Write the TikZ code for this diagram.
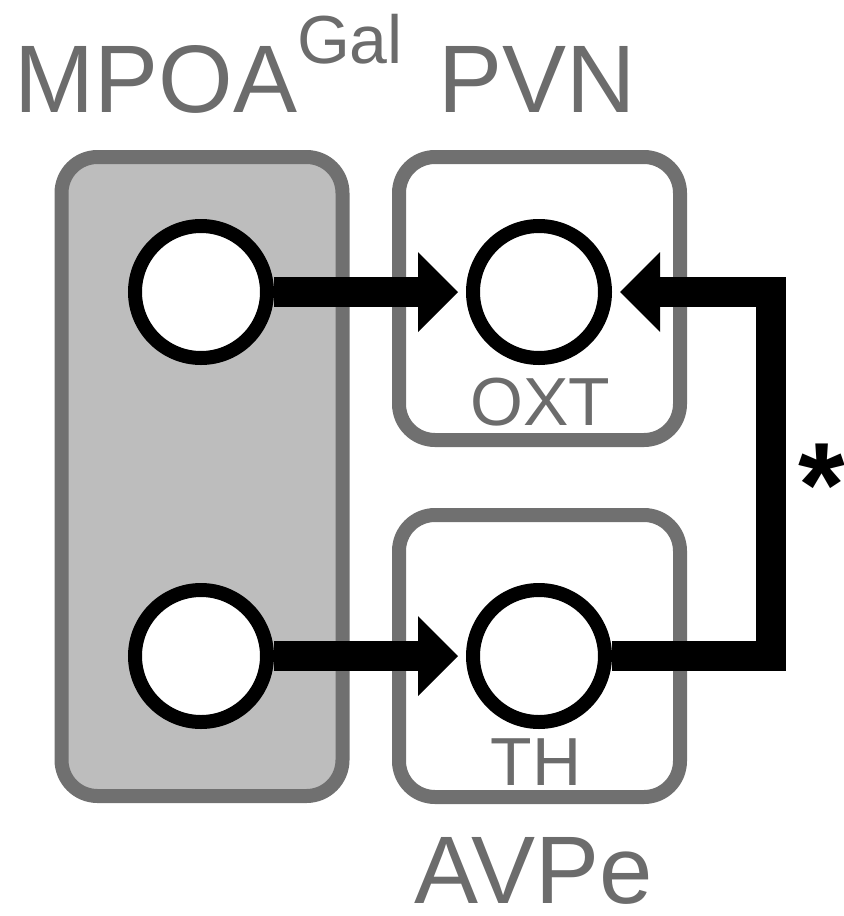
\documentclass[tikz,border=0pt]{standalone}
\usepackage{fontspec}
\setmainfont{Liberation Sans}
\usetikzlibrary{arrows.meta,positioning}
\definecolor{framegray}{RGB}{112,112,112}
\definecolor{areagray}{RGB}{189,189,189}
\definecolor{labelgray}{RGB}{108,108,108}

\begin{document}
\begin{tikzpicture}[
  x=0.5pt, y=-0.5pt,
  region/.style={draw=framegray, line width=7pt, rounded corners=18pt,
                 minimum width=140.5pt, inner sep=0pt},
  cell/.style={circle, draw=black, fill=white, line width=7pt,
               minimum size=66pt, inner sep=0pt},
  bigname/.style={font=\fontsize{48}{50}\selectfont, text=labelgray,
                  inner sep=0pt, text depth=0pt, anchor=base},
  smallname/.style={font=\fontsize{34}{36}\selectfont, text=labelgray,
                    inner sep=0pt, anchor=base},
  link/.style={line width=15pt, line join=miter, shorten >=4pt,
               -{Triangle[length=20pt,width=40pt,line width=0pt]}},
]
\useasboundingbox (0,0) rectangle (844,916);

% Areas
\node[region, fill=areagray, minimum height=319.5pt] (mpoabox) at (202,476.5) {};
\node[region, fill=white, minimum height=141.5pt] (pvnbox) at (539.5,298.5) {};
\node[region, fill=white, minimum height=141pt] (avpebox) at (539.5,656) {};

% Labels
\node[bigname] (mpoa) at (156,112) {MPOA};
\node[smallname] (gal) at (350,63) {Gal};
\node[bigname] (pvn) at (537,112) {PVN};
\node[bigname] (avpe) at (534,903) {AVPe};
\node[smallname] (oxt) at (540,425) {OXT};
\node[smallname] (th) at (536,785) {TH};

% Cells
\node[cell] (mpoaup) at (201,292) {};
\node[cell] (mpoalow) at (201,656) {};
\node[cell] (oxtcell) at (539,292) {};
\node[cell] (thcell) at (539,656) {};

% Projections
\draw[link] (mpoaup) -- (oxtcell);
\draw[link] (mpoalow) -- (thcell);
\coordinate (loop) at (771,474);
\draw[link] (thcell) -| (loop) |- (oxtcell);
\node[font=\fontsize{60}{60}\selectfont\bfseries, inner sep=0pt, anchor=base]
  (ast) at (822,526) {*};

\end{tikzpicture}
\end{document}
